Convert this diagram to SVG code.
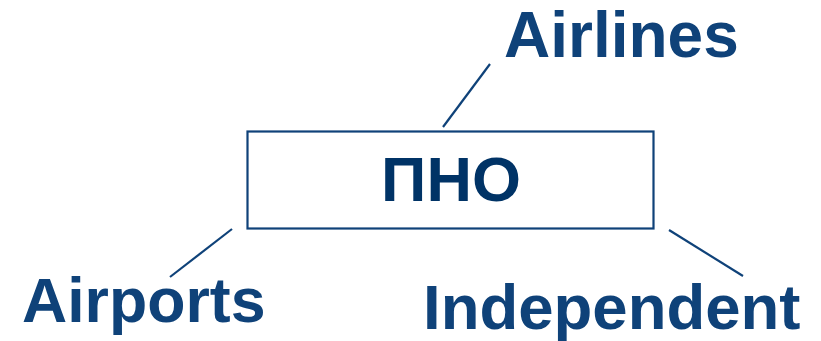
<svg xmlns="http://www.w3.org/2000/svg" width="821" height="341" viewBox="0 0 821 341">
<style>
.lbl{font-family:"Liberation Sans",Arial,sans-serif;font-weight:bold;fill:#0f4279}
.ln{stroke:#0f4279;stroke-width:2.2;fill:none}
</style>
<rect width="821" height="341" fill="#ffffff"/>
<g id="connectors">
<line class="ln" x1="490" y1="64" x2="443" y2="127"/>
<line class="ln" x1="232" y1="229" x2="170" y2="277"/>
<line class="ln" x1="669" y1="230" x2="743" y2="276"/>
</g>
<g id="pno">
<rect x="247.5" y="131.5" width="406" height="97" fill="none" stroke="#0f4279" stroke-width="2.2"/>
<text class="lbl" x="451" y="201" font-size="63" text-anchor="middle" style="fill:#003366">ПНО</text>
</g>
<g id="airlines">
<text class="lbl" x="504" y="57" font-size="64">Airlines</text>
</g>
<g id="airports">
<text class="lbl" x="22" y="322" font-size="62.6">Airports</text>
</g>
<g id="independent">
<text class="lbl" x="423" y="329" font-size="63.5">Independent</text>
</g>
</svg>
